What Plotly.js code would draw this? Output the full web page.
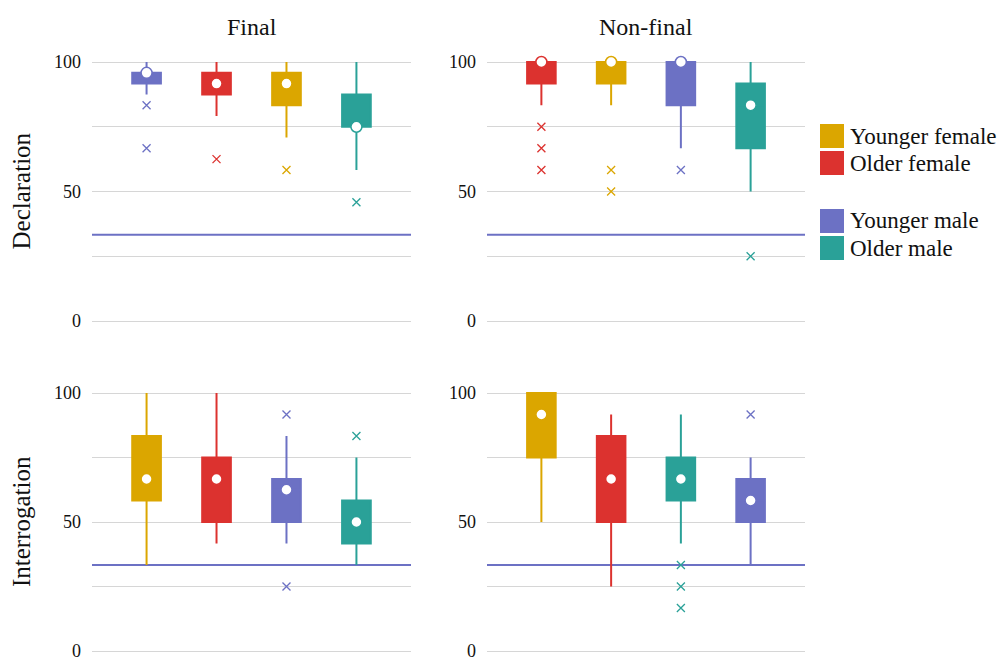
<!DOCTYPE html>
<html>
<head>
<meta charset="utf-8">
<script src="https://cdn.plot.ly/plotly-3.0.1.min.js"></script>
<style>html,body{margin:0;padding:0;background:#fff;}#chart{width:1004px;height:662px;}</style>
</head>
<body>
<div id="chart"></div>
<script>
// ---------- data ----------
const groups = ['Younger female', 'Older female', 'Younger male', 'Older male'];
const groupColors = ['#DBA600', '#DC322F', '#6C71C4', '#2AA198'];
const chanceLevel = 100 / 3;
const yTickVals = [0, 25, 50, 75, 100];
const yTickText = ['0', '', '50', '', '100'];
const columnTitles = ['Final', 'Non-final'];
const rowTitles = ['Declaration', 'Interrogation'];

// Final / Declaration
const finalDeclOrder = ['Younger male', 'Older female', 'Younger female', 'Older male'];
const finalDeclQ1 = [91.67, 87.5, 83.33, 75];
const finalDeclMedian = [95.83, 91.67, 91.67, 75];
const finalDeclQ3 = [95.83, 95.83, 95.83, 87.5];
const finalDeclLow = [87.5, 79.17, 70.83, 58.33];
const finalDeclHigh = [100, 100, 100, 100];
const finalDeclOutliers = [[83.33, 66.67], [62.5], [58.33], [45.83]];

// Non-final / Declaration
const nonfinalDeclOrder = ['Older female', 'Younger female', 'Younger male', 'Older male'];
const nonfinalDeclQ1 = [91.67, 91.67, 83.33, 66.67];
const nonfinalDeclMedian = [100, 100, 100, 83.33];
const nonfinalDeclQ3 = [100, 100, 100, 91.67];
const nonfinalDeclLow = [83.33, 83.33, 66.67, 50];
const nonfinalDeclHigh = [100, 100, 100, 100];
const nonfinalDeclOutliers = [[75, 66.67, 58.33], [58.33, 50], [58.33], [25]];

// Final / Interrogation
const finalInterOrder = ['Younger female', 'Older female', 'Younger male', 'Older male'];
const finalInterQ1 = [58.33, 50, 50, 41.67];
const finalInterMedian = [66.67, 66.67, 62.5, 50];
const finalInterQ3 = [83.33, 75, 66.67, 58.33];
const finalInterLow = [33.33, 41.67, 41.67, 33.33];
const finalInterHigh = [100, 100, 83.33, 75];
const finalInterOutliers = [[], [], [91.67, 25], [83.33]];

// Non-final / Interrogation
const nonfinalInterOrder = ['Younger female', 'Older female', 'Older male', 'Younger male'];
const nonfinalInterQ1 = [75, 50, 58.33, 50];
const nonfinalInterMedian = [91.67, 66.67, 66.67, 58.33];
const nonfinalInterQ3 = [100, 83.33, 75, 66.67];
const nonfinalInterLow = [50, 25, 41.67, 33.33];
const nonfinalInterHigh = [100, 91.67, 91.67, 75];
const nonfinalInterOutliers = [[], [], [33.33, 25, 16.67], [91.67]];

// ---------- build ----------
const W = 1004, H = 662;
const FONT = '"Liberation Serif", "DejaVu Serif", serif';
const panels = [
  {ax: '', order: finalDeclOrder, q1: finalDeclQ1, med: finalDeclMedian, q3: finalDeclQ3, lo: finalDeclLow, hi: finalDeclHigh, out: finalDeclOutliers},
  {ax: '2', order: nonfinalDeclOrder, q1: nonfinalDeclQ1, med: nonfinalDeclMedian, q3: nonfinalDeclQ3, lo: nonfinalDeclLow, hi: nonfinalDeclHigh, out: nonfinalDeclOutliers},
  {ax: '3', order: finalInterOrder, q1: finalInterQ1, med: finalInterMedian, q3: finalInterQ3, lo: finalInterLow, hi: finalInterHigh, out: finalInterOutliers},
  {ax: '4', order: nonfinalInterOrder, q1: nonfinalInterQ1, med: nonfinalInterMedian, q3: nonfinalInterQ3, lo: nonfinalInterLow, hi: nonfinalInterHigh, out: nonfinalInterOutliers}
];
const colorOf = g => groupColors[groups.indexOf(g)];

const traces = [];
panels.forEach(p => {
  const xa = 'x' + p.ax, ya = 'y' + p.ax;
  p.order.forEach((g, i) => {
    const c = colorOf(g);
    traces.push({
      type: 'box', xaxis: xa, yaxis: ya, x: [g],
      q1: [p.q1[i]], median: [p.med[i]], q3: [p.q3[i]],
      lowerfence: [p.lo[i]], upperfence: [p.hi[i]],
      boxpoints: false, fillcolor: c, line: {color: c, width: 2},
      whiskerwidth: 0, width: 0.41, showlegend: false, hoverinfo: 'skip'
    });
    if (p.out[i].length) {
      traces.push({
        type: 'scatter', mode: 'markers', xaxis: xa, yaxis: ya,
        x: p.out[i].map(() => g), y: p.out[i],
        marker: {symbol: 'x-thin-open', size: 8, color: c, line: {color: c, width: 1.3}},
        showlegend: false, hoverinfo: 'skip', cliponaxis: false
      });
    }
  });
  traces.push({
    type: 'scatter', mode: 'markers', xaxis: xa, yaxis: ya,
    x: p.order, y: p.med,
    marker: {symbol: 'circle', size: 11, color: '#ffffff', line: {color: p.order.map(colorOf), width: 1.5}},
    showlegend: false, hoverinfo: 'skip', cliponaxis: false
  });
});

// pixel geometry: value 100 / value 0 positions, with 2 units padding in range
const PAD = 2;
const TOP100 = 62, TOP0 = 321, BOT100 = 393, BOT0 = 651;
const pxPerUnitT = (TOP0 - TOP100) / 100, pxPerUnitB = (BOT0 - BOT100) / 100;
const xDomL = [92 / W, 411 / W], xDomR = [487 / W, 805 / W];
const yDomT = [1 - (TOP0 + PAD * pxPerUnitT) / H, 1 - (TOP100 - PAD * pxPerUnitT) / H];
const yDomB = [1 - (BOT0 + PAD * pxPerUnitB) / H, 1 - (BOT100 - PAD * pxPerUnitB) / H];
function xAxis(dom, order, anchor) {
  return {domain: dom, anchor: anchor, type: 'category', categoryorder: 'array', categoryarray: order,
    range: [-0.78, 3.78], showgrid: false, zeroline: false, showticklabels: false, ticks: '', showline: false, fixedrange: true};
}
function yAxis(dom, anchor) {
  return {domain: dom, anchor: anchor, range: [-PAD, 100 + PAD], tickvals: yTickVals, ticktext: yTickText,
    showgrid: true, gridcolor: '#d6d6d6', gridwidth: 1, zeroline: false, showline: false, ticks: '',
    ticklabelstandoff: 10, ticklabeloverflow: 'allow', tickfont: {family: FONT, size: 18, color: '#111'}, fixedrange: true, automargin: false};
}

const shapes = [];
['', '2', '3', '4'].forEach(a => {
  shapes.push({type: 'line', xref: 'x' + a + ' domain', yref: 'y' + a, x0: 0, x1: 1, y0: chanceLevel, y1: chanceLevel,
    line: {color: '#6C71C4', width: 2}, layer: 'below'});
});

const annotations = [
  {text: columnTitles[0], x: (xDomL[0] + xDomL[1]) / 2, y: 1 - 27 / H, xref: 'paper', yref: 'paper', showarrow: false, xanchor: 'center', yanchor: 'middle', font: {family: FONT, size: 24, color: '#111'}},
  {text: columnTitles[1], x: (xDomR[0] + xDomR[1]) / 2, y: 1 - 27 / H, xref: 'paper', yref: 'paper', showarrow: false, xanchor: 'center', yanchor: 'middle', font: {family: FONT, size: 24, color: '#111'}},
  {text: rowTitles[0], x: 21 / W, y: 1 - (TOP0 + TOP100) / 2 / H, xref: 'paper', yref: 'paper', showarrow: false, textangle: -90, xanchor: 'center', yanchor: 'middle', font: {family: FONT, size: 25, color: '#111'}},
  {text: rowTitles[1], x: 21 / W, y: 1 - (BOT0 + BOT100) / 2 / H, xref: 'paper', yref: 'paper', showarrow: false, textangle: -90, xanchor: 'center', yanchor: 'middle', font: {family: FONT, size: 25, color: '#111'}}
];

// legend (custom, two groups)
const legendRows = [136, 163, 221, 248];
groups.forEach((g, i) => {
  const cy = legendRows[i];
  shapes.push({type: 'rect', xref: 'paper', yref: 'paper', x0: 820 / W, x1: 844 / W, y0: 1 - (cy + 12) / H, y1: 1 - (cy - 12) / H,
    fillcolor: groupColors[i], line: {width: 0}});
  annotations.push({text: g, x: 848 / W, y: 1 - cy / H, xref: 'paper', yref: 'paper', showarrow: false, xanchor: 'left', yanchor: 'middle',
    font: {family: FONT, size: 23, color: '#111'}});
});

const layout = {
  width: W, height: H, margin: {l: 0, r: 0, t: 0, b: 0}, paper_bgcolor: '#fff', plot_bgcolor: '#fff',
  showlegend: false, boxmode: 'overlay',
  xaxis: xAxis(xDomL, finalDeclOrder, 'y'), yaxis: yAxis(yDomT, 'x'),
  xaxis2: xAxis(xDomR, nonfinalDeclOrder, 'y2'), yaxis2: yAxis(yDomT, 'x2'),
  xaxis3: xAxis(xDomL, finalInterOrder, 'y3'), yaxis3: yAxis(yDomB, 'x3'),
  xaxis4: xAxis(xDomR, nonfinalInterOrder, 'y4'), yaxis4: yAxis(yDomB, 'x4'),
  shapes: shapes, annotations: annotations
};

Plotly.newPlot('chart', traces, layout, {staticPlot: true, displayModeBar: false});
</script>
</body>
</html>
